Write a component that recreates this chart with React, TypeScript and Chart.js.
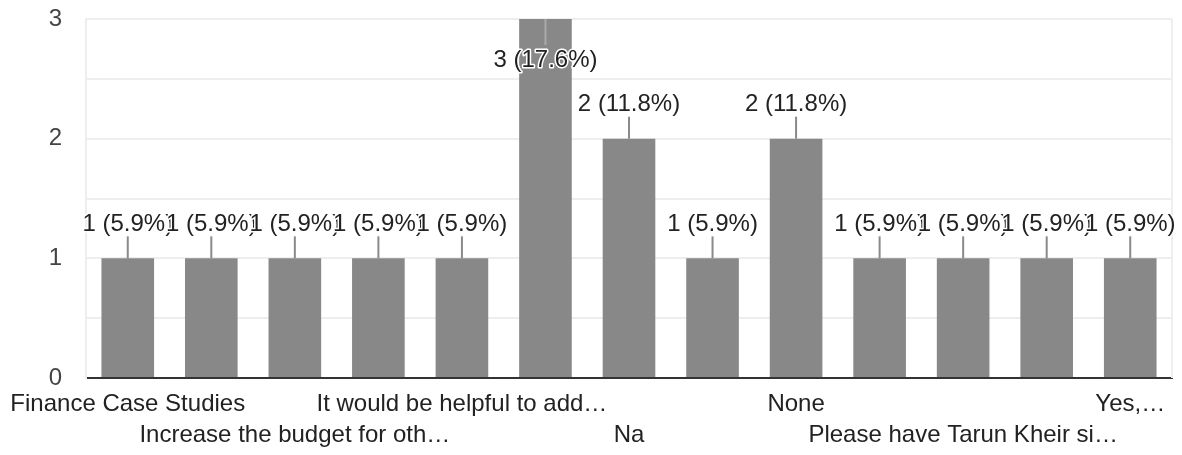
import React, { useEffect, useRef } from "react";
import { Chart, registerables } from "chart.js";

Chart.register(...registerables);

const categories: string[] = [
  "Finance Case Studies",
  "Good",
  "Increase the budget for oth…",
  "Include more…",
  "It would be helpful to add…",
  "N/A",
  "Na",
  "No",
  "None",
  "Nothing",
  "Please have Tarun Kheir si…",
  "Thank you",
  "Yes,…",
];
const counts: number[] = [1, 1, 1, 1, 1, 3, 2, 1, 2, 1, 1, 1, 1];
const yTicks: number[] = [0, 1, 2, 3];

const FONT = "'Liberation Sans', Arial, sans-serif";

const labelPlugin = {
  id: "barLabels",
  afterDatasetsDraw(chart: any) {
    const ctx = chart.ctx;
    const meta = chart.getDatasetMeta(0);
    const total = counts.reduce((a, b) => a + b, 0);
    const area = chart.chartArea;
    ctx.save();
    // right border
    ctx.strokeStyle = "#eeeeee";
    ctx.lineWidth = 2;
    ctx.beginPath();
    ctx.moveTo(area.right, area.top);
    ctx.lineTo(area.right, area.bottom);
    ctx.stroke();

    ctx.font = `24px ${FONT}`;
    ctx.textAlign = "center";
    ctx.textBaseline = "middle";
    meta.data.forEach((bar: any, i: number) => {
      const v = counts[i];
      const text = `${v} (${((v / total) * 100).toFixed(1)}%)`;
      const top = bar.y;
      const inside = top - area.top < 50;
      ctx.lineWidth = 2;
      ctx.strokeStyle = inside ? "#aaaaaa" : "#8a8a8a";
      ctx.beginPath();
      if (inside) {
        ctx.moveTo(bar.x, top);
        ctx.lineTo(bar.x, top + 26);
      } else {
        ctx.moveTo(bar.x, top - 22);
        ctx.lineTo(bar.x, top);
      }
      ctx.stroke();
      const ty = inside ? top + 41 : top - 34;
      ctx.strokeStyle = "#ffffff";
      ctx.lineWidth = 3;
      ctx.lineJoin = "round";
      ctx.strokeText(text, bar.x, ty);
      ctx.fillStyle = "#222222";
      ctx.fillText(text, bar.x, ty);
    });
    ctx.restore();
  },
};

export default function App() {
  const ref = useRef<HTMLCanvasElement | null>(null);
  useEffect(() => {
    if (!ref.current) return;
    const chart = new Chart(ref.current, {
      type: "bar",
      data: {
        labels: categories,
        datasets: [
          {
            data: counts,
            backgroundColor: "#888888",
            barPercentage: 0.63,
            categoryPercentage: 1,
          },
        ],
      },
      plugins: [labelPlugin],
      options: {
        animation: false,
        responsive: true,
        maintainAspectRatio: false,
        layout: { padding: { top: 0, right: 10, left: 0, bottom: 0 } },
        plugins: { legend: { display: false }, tooltip: { enabled: false } },
        scales: {
          x: {
            grid: { display: false, drawTicks: false },
            border: { color: "#333333", width: 2 },
            ticks: {
              autoSkip: false,
              maxRotation: 0,
              minRotation: 0,
              padding: 11,
              color: "#222222",
              font: { family: FONT, size: 24, lineHeight: 1.3 },
              callback: (_v: any, i: number) => {
                if (i % 4 === 0) return categories[i];
                if (i % 4 === 2) return ["", categories[i]];
                return "";
              },
            },
            afterFit: (s: any) => {
              s.height = 77;
              s.paddingLeft = 0;
              s.paddingRight = 0;
            },
          },
          y: {
            min: 0,
            max: 3,
            grid: {
              color: (c: any) => (c.tick && c.tick.value === 0 ? "rgba(0,0,0,0)" : "#eeeeee"),
              lineWidth: 2,
              drawTicks: false,
            },
            border: { color: "#eeeeee", width: 2 },
            ticks: {
              stepSize: 0.5,
              padding: 24,
              color: "#444444",
              font: { family: FONT, size: 24 },
              callback: (v: any) => (yTicks.includes(v) ? String(v) : ""),
            },
            afterFit: (s: any) => {
              s.width = 86;
              s.paddingTop = 19;
              s.paddingBottom = 0;
            },
          },
        },
      },
    });
    return () => chart.destroy();
  }, []);
  return (
    <div style={{ position: "fixed", left: 0, top: 0, width: 1182, height: 455, background: "#fff" }}>
      <canvas ref={ref} />
    </div>
  );
}
